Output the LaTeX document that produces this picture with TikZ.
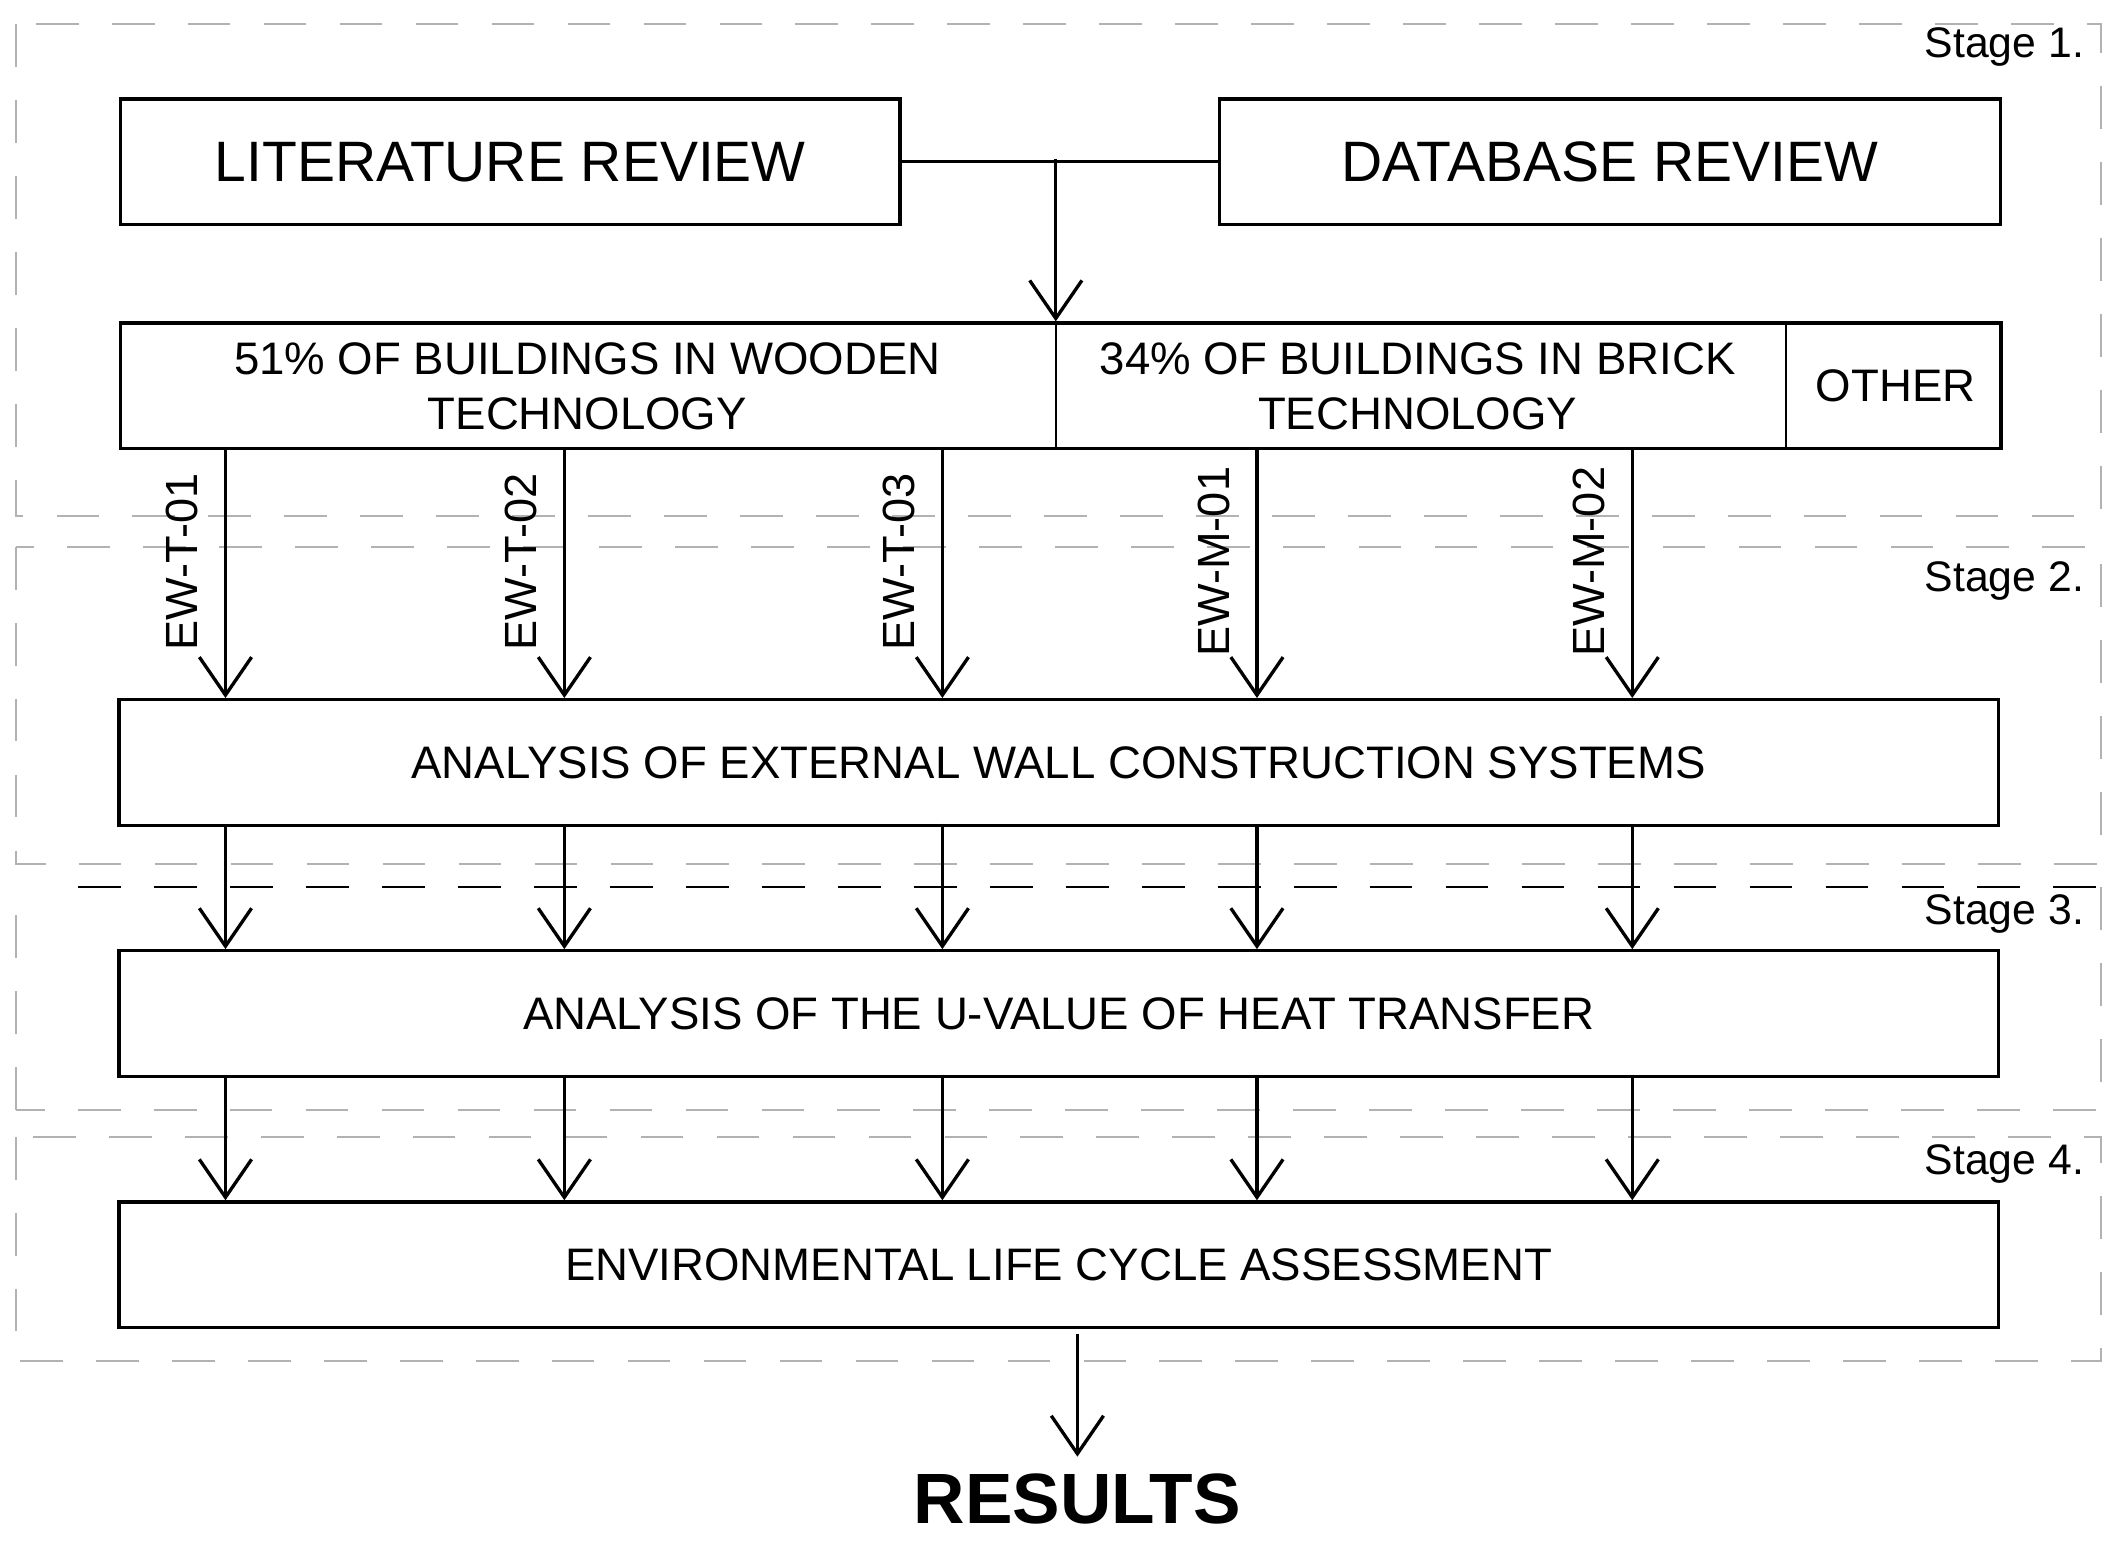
\documentclass[tikz,border=0pt]{standalone}
\usepackage{fontspec}
\setmainfont{Liberation Sans}
\usetikzlibrary{arrows.meta}
\begin{document}
\begin{tikzpicture}[x=0.01cm,y=-0.01cm,
  box/.style={draw,line width=0.7pt,inner sep=0pt,anchor=north west,minimum height=0.93cm},
  frame/.style={draw=gray!60,dash pattern=on 9pt off 7pt,line width=0.5pt},
  arr/.style={-{Straight Barb[length=8pt,width=11pt,line width=0.7pt]},line width=0.7pt},
  stg/.style={anchor=east,font=\fontsize{9}{10}\selectfont},
  big/.style={font=\fontsize{12}{14}\selectfont},
  mid/.style={font=\fontsize{9.6}{11.5}\selectfont},
  lab/.style={rotate=90,font=\fontsize{9.5}{10}\selectfont,inner sep=0pt}]
\useasboundingbox (0,0) rectangle (1568,1148);
% frames
\draw[frame] (12,18) rectangle (1556,382);
\draw[frame] (12,405) rectangle (1556,640);
\draw[frame] (12,822) -- (12,657) (1556,657) -- (1556,822) -- (12,822);
\draw[draw=black,dash pattern=on 9pt off 7pt,line width=0.5pt] (58,657) -- (1556,657);
\draw[frame] (12,842) rectangle (1556,1008);
\node[stg] (s1) at (1556,35) {Stage 1.};
\node[stg] (s2) at (1556,430) {Stage 2.};
\node[stg] (s3) at (1556,677) {Stage 3.};
\node[stg] (s4) at (1556,862) {Stage 4.};
% top boxes
\node[box,minimum width=5.77cm] (lit) at (88,72) {};
\node[big] at (lit.center) {LITERATURE REVIEW};
\node[box,minimum width=5.78cm] (db) at (902,72) {};
\node[big] at (db.center) {DATABASE REVIEW};
\draw[line width=0.7pt] (lit.east) -- (db.west);
\coordinate (j) at (782,118);
% category row
\node[box,minimum width=13.92cm] (row) at (88,238) {};
\draw[line width=0.5pt] (782,238) -- (782,331) (1323,238) -- (1323,331);
\node[mid,align=center] (w) at (435,286) {51\% OF BUILDINGS IN WOODEN\\TECHNOLOGY};
\node[mid,align=center] (b) at (1050,286) {34\% OF BUILDINGS IN BRICK\\TECHNOLOGY};
\node[mid] (o) at (1404,286) {OTHER};
\draw[arr] (j) -- (j |- row.north);
% analysis boxes
\node[box,minimum width=13.91cm] (a1) at (87,517) {};
\node[mid] at (a1.center) {ANALYSIS OF EXTERNAL WALL CONSTRUCTION SYSTEMS};
\node[box,minimum width=13.91cm] (a2) at (87,703) {};
\node[mid] at (a2.center) {ANALYSIS OF THE U-VALUE OF HEAT TRANSFER};
\node[box,minimum width=13.91cm] (a3) at (87,889) {};
\node[mid] at (a3.center) {ENVIRONMENTAL LIFE CYCLE ASSESSMENT};
\foreach \x/\t/\n in {167/EW-T-01/l1,418/EW-T-02/l2,698/EW-T-03/l3,931/EW-M-01/l4,1209/EW-M-02/l5}{
  \draw[arr] (\x,331) -- (\x,517);
  \node[lab] (\n) at (\x-32,416) {\t};
  \draw[arr] (\x,610) -- (\x,703);
  \draw[arr] (\x,796) -- (\x,889);
}
\node[font=\bfseries\fontsize{15}{18}\selectfont] (res) at (798,1110) {RESULTS};
\draw[arr] (798,988) -- (res.north);
\end{tikzpicture}
\end{document}
